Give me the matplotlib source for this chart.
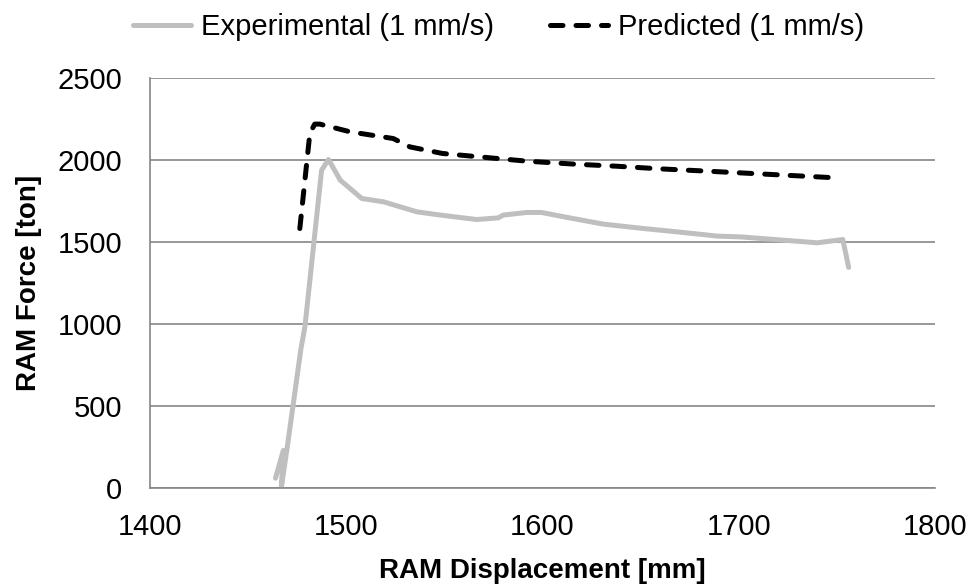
import numpy as np
import matplotlib
matplotlib.use('Agg')
import matplotlib.pyplot as plt

plt.rcParams['font.family'] = ['Liberation Sans', 'DejaVu Sans']

# Podaci ocitani s grafa
exp_disp = [1464, 1468, 1467, 1470, 1477, 1479, 1487.5, 1491, 1497, 1508, 1519,
            1536, 1548, 1566.5, 1577.5, 1580, 1592, 1599.5, 1615.6, 1631, 1650,
            1670, 1689, 1701, 1740, 1753, 1756]
exp_force = [60, 230, 5, 250, 852, 984, 1939, 2004, 1878, 1766, 1746,
             1685, 1665, 1638, 1648, 1665, 1681, 1681, 1644, 1610, 1585,
             1561, 1537, 1532, 1496, 1516, 1346]

pred_disp = [1476.4, 1481.5, 1484, 1486.6, 1502, 1524, 1532.5, 1549, 1568, 1592,
             1616, 1638, 1660, 1684, 1750]
pred_force = [1583, 2163, 2220, 2220, 2173, 2132, 2081, 2041, 2020, 1994,
              1976, 1963, 1947, 1933, 1892]

fig = plt.figure(figsize=(9.73, 5.88), dpi=100)
ax = fig.add_axes([0.154, 0.17, 0.807, 0.697])

ax.plot(exp_disp, exp_force, color='#BFBFBF', lw=3.6, solid_joinstyle='round',
        solid_capstyle='round', label='Experimental (1 mm/s)')
ax.plot(pred_disp, pred_force, color='black', lw=3.6, ls=(0, (2.5, 2.6)),
        dash_capstyle='round', label='Predicted (1 mm/s)')

ax.set_xlim(1400, 1800)
ax.set_ylim(0, 2500)
ax.set_xticks([1400, 1500, 1600, 1700, 1800])
ax.set_yticks(np.arange(0, 2501, 500))
ax.grid(axis='y', color='#868686', lw=1.2)
ax.set_axisbelow(True)
ax.tick_params(length=0, labelsize=21)
ax.tick_params(axis='x', pad=18)
ax.tick_params(axis='y', pad=20)
for s in ['top', 'right']:
    ax.spines[s].set_visible(False)
for s in ['left', 'bottom']:
    ax.spines[s].set_color('#868686')
    ax.spines[s].set_linewidth(1.2)

ax.set_xlabel('RAM Displacement [mm]', fontsize=20, fontweight='bold', labelpad=12)
ax.set_ylabel('RAM Force [ton]', fontsize=20, fontweight='bold', labelpad=11)

ax.legend(loc='center', bbox_to_anchor=(0.444, 1.125), ncol=2, frameon=False,
          fontsize=21, handlelength=2.0, columnspacing=1.9, handletextpad=0.35)

plt.savefig('out.png', dpi=100)
